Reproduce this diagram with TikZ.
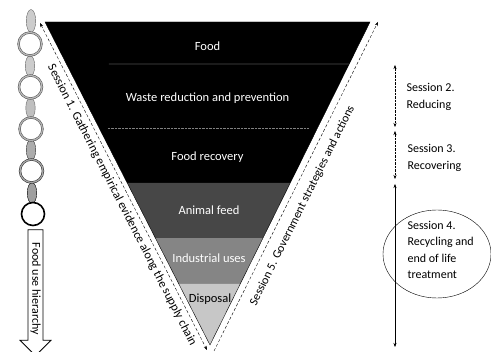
\documentclass[tikz,border=0pt]{standalone}
\usepackage{fontspec}
\setmainfont{Carlito}
\usetikzlibrary{calc,shapes.geometric,shapes.arrows,arrows.meta}

\tikzset{
  bandtext/.style={font=\fontsize{12.5}{14}\selectfont, text=white},
  sessline/.style={densely dashed, thin, -{Stealth[length=4pt]}},
  sessrange/.style={thin, {Stealth[length=4pt,width=3pt]}-{Stealth[length=4pt,width=3pt]}},
  sesstext/.style={font=\fontsize{12}{16.5}\selectfont, align=left, anchor=west},
  edgetext/.style={font=\fontsize{12}{14}\selectfont, inner sep=0pt},
  chainring/.style={circle, minimum size=23pt, draw=black!70, double=gray!55, double distance=1.3pt, line width=0.5pt},
  chainlink/.style={ellipse, minimum width=7pt, minimum height=21pt, draw=black!60, fill=gray!40, thin},
}

\begin{document}
\begin{tikzpicture}[x=1pt,y=-1pt]
\useasboundingbox (0,0) rectangle (491,352);

\coordinate (tl) at (45,22);
\coordinate (tr) at (370,22);
\coordinate (ap) at (210,345);
\coordinate (l1) at ($(tl)!0.130!(ap)$);
\coordinate (r1) at ($(tr)!0.130!(ap)$);
\coordinate (l2) at ($(tl)!0.328!(ap)$);
\coordinate (r2) at ($(tr)!0.328!(ap)$);
\coordinate (l3) at ($(tl)!0.498!(ap)$);
\coordinate (r3) at ($(tr)!0.498!(ap)$);
\coordinate (l4) at ($(tl)!0.669!(ap)$);
\coordinate (r4) at ($(tr)!0.669!(ap)$);
\coordinate (l5) at ($(tl)!0.811!(ap)$);
\coordinate (r5) at ($(tr)!0.811!(ap)$);

\fill[black] (tl) -- (tr) -- (r3) -- (l3) -- cycle;
\fill[black!72] (l3) -- (r3) -- (r4) -- (l4) -- cycle;
\fill[black!48] (l4) -- (r4) -- (r5) -- (l5) -- cycle;
\fill[black!22] (l5) -- (r5) -- (ap) -- cycle;
\draw[white!85!black, thin] ($(l1)!0.15!(r1)$) -- (r1);
\draw[gray, densely dotted] ($(l2)!0.04!(r2)$) -- ($(l2)!0.96!(r2)$);
\draw (tl) -- (tr) -- (ap) -- cycle;

\node[bandtext] (food) at (207.5,46) {Food};
\node[bandtext] (waste) at (207.5,98) {Waste reduction and prevention};
\node[bandtext] (recov) at (207.5,157) {Food recovery};
\node[bandtext] (feed) at (209,210) {Animal feed};
\node[bandtext] (indus) at (209,258) {Industrial uses};
\node[bandtext, text=black] (disp) at (210,299) {Disposal};

\coordinate (s1a) at (40,23);
\coordinate (s1b) at (207,350);
\coordinate (s5a) at (214,351);
\coordinate (s5b) at (378,22);
\draw[sessline, {Stealth[length=4pt]}-{Stealth[length=4pt]}] (s1a) -- (s1b);
\draw[sessline] (s5a) -- (s5b);
\node[edgetext, font=\fontsize{12.3}{14}\selectfont, rotate=-62.9] (s1) at ($(s1a)!0.545!(s1b) + (-9,4)$)
  {Session 1. Gathering empirical evidence along the supply chain};
\node[edgetext, rotate=63.6] (s5) at ($(s5a)!0.46!(s5b) + (13,6)$)
  {Session 5. Government strategies and actions};

\coordinate (s2a) at (395,65);
\coordinate (s2b) at (395,127);
\coordinate (s3a) at (395,131);
\coordinate (s3b) at (395,179);
\coordinate (s4a) at (395,184);
\coordinate (s4b) at (395,347);
\draw[sessrange, densely dotted] (s2a) -- (s2b);
\draw[sessrange, densely dotted] (s3a) -- (s3b);
\draw[sessrange] (s4a) -- (s4b);
\node[sesstext] (s2) at (403,97) {Session 2.\\Reducing};
\node[sesstext] (s3) at (404,158) {Session 3.\\Recovering};
\node[sesstext] (s4) at (404,250) {Session 4.\\Recycling and\\end of life\\treatment};
\node[ellipse, draw, thin, minimum width=108pt, minimum height=88pt] (s4ring) at (437,254) {};

\node[chainlink, minimum height=23pt] (link0) at (31,21) {};
\node[chainlink] (link1) at (30,66) {};
\node[chainlink, fill=gray!50] (link2) at (30.5,108) {};
\node[chainlink, fill=gray!65, draw=black!80] (link3) at (31,150) {};
\node[chainlink, fill=gray!75, draw=black] (link4) at (32,193) {};
\node[chainring, fill=white] (ring1) at (30,44) {};
\node[chainring, fill=white] (ring2) at (30.5,87) {};
\node[chainring, fill=white, double=gray!60] (ring3) at (31,129) {};
\node[chainring, fill=white, draw=black!85, double=gray!70] (ring4) at (31.5,171) {};
\node[circle, minimum size=23pt, draw, line width=1.6pt, fill=white] (ring5) at (33,214) {};

\node[single arrow, draw, thick, fill=white, rotate=-90, minimum height=126pt,
  single arrow head extend=8pt, inner sep=2pt, font=\fontsize{12}{13}\selectfont]
  (hier) at (35.5,289) {Food use hierarchy};
\end{tikzpicture}
\end{document}
